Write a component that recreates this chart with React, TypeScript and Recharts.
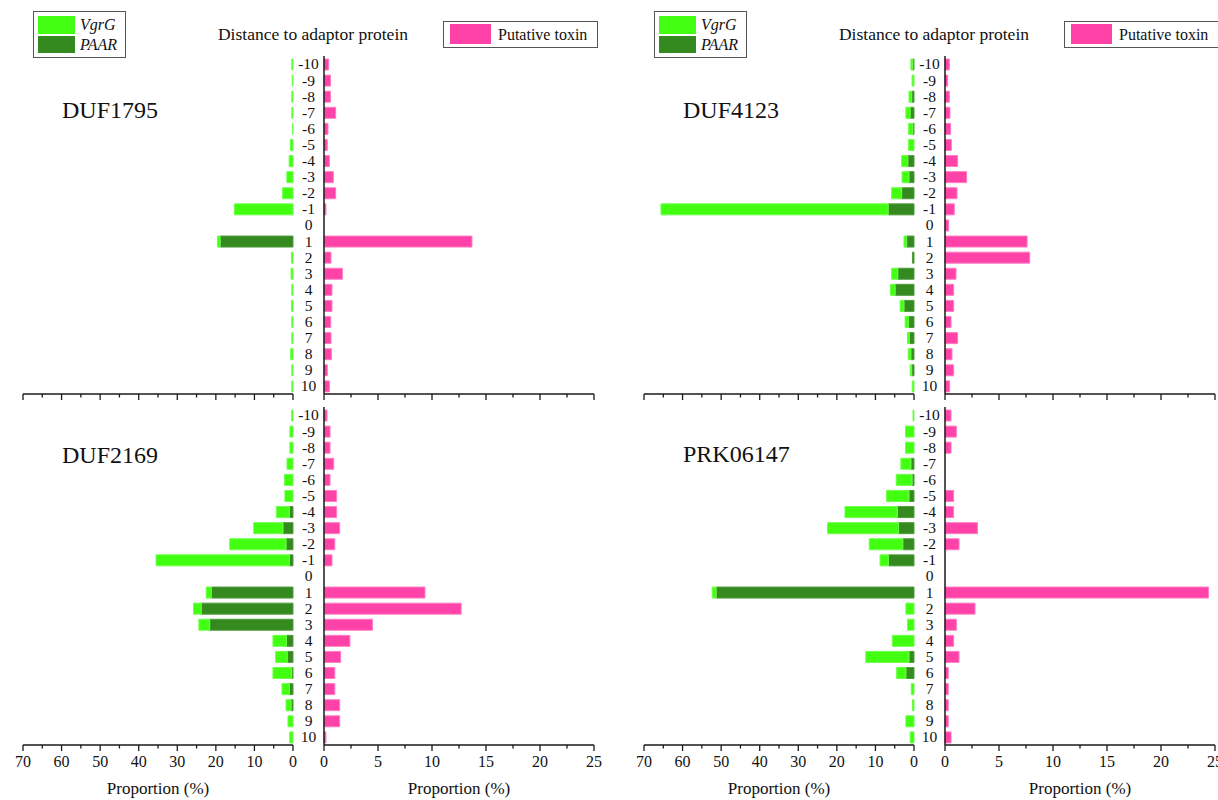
import { BarChart, Bar, XAxis, YAxis } from "recharts";

const positions = [-10, -9, -8, -7, -6, -5, -4, -3, -2, -1, 0, 1, 2, 3, 4, 5, 6, 7, 8, 9, 10];

// VgrG values are the light green part drawn beyond the PAAR part
const duf1795Vgrg = [0.3, 0.2, 0.3, 0.3, 0.1, 0.7, 1.0, 1.6, 2.7, 15.2, 0, 0.7, 0.4, 0.5, 0.3, 0.4, 0.3, 0.3, 0.6, 0.3, 0.3];
const duf1795Paar = [0, 0, 0, 0, 0, 0, 0, 0, 0, 0, 0, 18.9, 0, 0, 0, 0, 0, 0, 0, 0, 0];
const duf1795Toxin = [0.43, 0.6, 0.6, 1.08, 0.37, 0.3, 0.5, 0.86, 1.08, 0.18, 0, 13.7, 0.65, 1.7, 0.74, 0.74, 0.62, 0.65, 0.68, 0.31, 0.5];

const duf4123Vgrg = [0.5, 0.5, 0.7, 1.1, 1.1, 1.4, 1.6, 1.8, 2.6, 58.9, 0, 0.7, 0, 1.6, 1.2, 1.0, 0.9, 0.5, 0.7, 0.4, 0.45];
const duf4123Paar = [0.3, 0, 0.6, 1.0, 0.3, 0, 1.6, 1.3, 3.2, 6.7, 0, 1.9, 0.4, 4.2, 4.9, 2.6, 1.4, 1.2, 0.8, 0.6, 0];
const duf4123Toxin = [0.4, 0.25, 0.4, 0.46, 0.52, 0.59, 1.17, 2.0, 1.11, 0.86, 0.34, 7.6, 7.84, 1.02, 0.8, 0.8, 0.56, 1.17, 0.65, 0.8, 0.43];

const duf2169Vgrg = [0.35, 0.8, 0.8, 1.55, 2.2, 2.1, 3.35, 7.6, 14.6, 34.55, 0, 1.3, 2.0, 2.8, 3.5, 3.0, 4.85, 1.9, 1.3, 1.3, 0.85];
const duf2169Paar = [0, 0, 0, 0, 0, 0, 0.95, 2.6, 1.8, 0.95, 0, 21.2, 23.8, 21.6, 1.7, 1.5, 0.35, 0.95, 0.5, 0, 0];
const duf2169Toxin = [0.28, 0.56, 0.56, 0.9, 0.56, 1.17, 1.17, 1.45, 1.0, 0.74, 0, 9.35, 12.7, 4.48, 2.4, 1.54, 1.0, 1.0, 1.45, 1.45, 0.18];

const prk06147Vgrg = [0.25, 2.2, 2.2, 2.6, 4.1, 5.8, 13.6, 18.4, 8.7, 2.15, 0, 1.0, 2.1, 1.7, 5.6, 11.2, 2.4, 0.7, 0.4, 2.1, 1.0];
const prk06147Paar = [0, 0, 0, 0.8, 0.5, 1.3, 4.3, 4.0, 2.9, 6.65, 0, 51.3, 0, 0, 0, 1.3, 2.1, 0, 0, 0, 0];
const prk06147Toxin = [0.56, 1.05, 0.56, 0, 0, 0.8, 0.8, 3.0, 1.3, 0, 0, 24.4, 2.78, 1.05, 0.8, 1.3, 0.3, 0.3, 0.3, 0.3, 0.56];

const leftTicks = [0, 5, 10, 15, 20, 25, 30, 35, 40, 45, 50, 55, 60, 65, 70];
const rightTicks = [0, 2.5, 5, 7.5, 10, 12.5, 15, 17.5, 20, 22.5, 25];

const LIGHT = "#42ff12";
const DARK = "#348a1f";
const PINK = "#ff42a8";
const AXIS = "#1a1a1a";
const FONT = "'Liberation Serif', 'Times New Roman', serif";

const TOP = 56;
const PLOT_H = 338;

function XTick(props: any) {
  const { x, y, payload, major, showLabel } = props;
  const isMajor = payload.value % major === 0;
  return (
    <g>
      <line x1={x} x2={x} y1={y} y2={y + (isMajor ? 6 : 3.5)} stroke={AXIS} strokeWidth={1.3} />
      {showLabel && isMajor && (
        <text x={x} y={y + 22} textAnchor="middle" fontSize={16} fontFamily={FONT} fill="#111">
          {payload.value}
        </text>
      )}
    </g>
  );
}

function PosTick(props: any) {
  const { x, y, payload } = props;
  return (
    <text x={x - 15.5} y={y} dy="0.35em" textAnchor="middle" fontSize={15.5} fontFamily={FONT} fill="#111">
      {payload.value}
    </text>
  );
}

interface PanelProps {
  x: number;
  y: number;
  name: string;
  nameY: number;
  vgrg: number[];
  paar: number[];
  toxin: number[];
  bottom?: boolean;
  header?: boolean;
}

function Panel({ x, y, name, nameY, vgrg, paar, toxin, bottom = false, header = false }: PanelProps) {
  const data = positions.map((p, i) => ({ pos: String(p), vgrg: vgrg[i], paar: paar[i], toxin: toxin[i] }));
  const xh = bottom ? 55 : 10;
  const h = TOP + PLOT_H + xh;
  return (
    <div style={{ position: "absolute", left: x, top: y, width: 620, height: h }}>
      <div style={{ position: "absolute", left: 0, top: 0 }}>
        <BarChart width={300} height={h} data={data} layout="vertical" margin={{ top: TOP, right: 7, left: 23, bottom: 0 }} barSize={11}>
          <XAxis
            type="number"
            domain={[0, 70]}
            reversed
            ticks={leftTicks}
            interval={0}
            height={xh}
            tickSize={0}
            tickMargin={0}
            tickLine={false}
            axisLine={{ stroke: AXIS, strokeWidth: 1.5 }}
            tick={(p: any) => <XTick {...p} major={10} showLabel={bottom} />}
          />
          <YAxis type="category" dataKey="pos" orientation="right" width={0} tick={false} tickLine={false} axisLine={{ stroke: AXIS, strokeWidth: 1.5 }} />
          <Bar dataKey="paar" stackId="a" fill={DARK} stroke="#4f9c3c" strokeWidth={1} isAnimationActive={false} />
          <Bar dataKey="vgrg" stackId="a" fill={LIGHT} stroke="#6dff4a" strokeWidth={1} isAnimationActive={false} />
        </BarChart>
      </div>
      <div style={{ position: "absolute", left: 293, top: 0 }}>
        <BarChart width={321} height={h} data={data} layout="vertical" margin={{ top: TOP, right: 20, left: 0, bottom: 0 }} barSize={11}>
          <XAxis
            type="number"
            domain={[0, 25]}
            ticks={rightTicks}
            interval={0}
            height={xh}
            tickSize={0}
            tickMargin={0}
            tickLine={false}
            axisLine={{ stroke: AXIS, strokeWidth: 1.5 }}
            tick={(p: any) => <XTick {...p} major={5} showLabel={bottom} />}
          />
          <YAxis
            type="category"
            dataKey="pos"
            orientation="left"
            width={31}
            interval={0}
            tickSize={0}
            tickMargin={0}
            tickLine={false}
            axisLine={{ stroke: AXIS, strokeWidth: 1.5 }}
            tick={(p: any) => <PosTick {...p} />}
          />
          <Bar dataKey="toxin" fill={PINK} stroke="#ff7cc2" strokeWidth={1} isAnimationActive={false} />
        </BarChart>
      </div>
      <svg width={620} height={h} style={{ position: "absolute", left: 0, top: 0, pointerEvents: "none" }} fontFamily={FONT}>
        <text x={62} y={nameY} fontSize={24} fill="#111">{name}</text>
        {header && (
          <g>
            <rect x={33.5} y={11.5} width={92} height={46} fill="#fff" stroke="#555" strokeWidth={1} />
            <rect x={38} y={16} width={37} height={18} fill={LIGHT} />
            <rect x={38} y={36} width={37} height={17} fill={DARK} />
            <text x={80} y={30} fontSize={16} fontStyle="italic" fill="#111">VgrG</text>
            <text x={80} y={50} fontSize={16} fontStyle="italic" fill="#111">PAAR</text>
            <text x={313} y={40} fontSize={17.5} textAnchor="middle" fill="#111">Distance to adaptor protein</text>
            <rect x={443.5} y={21.5} width={154} height={26} fill="#fff" stroke="#555" strokeWidth={1} />
            <rect x={450} y={24} width={41} height={20} fill={PINK} />
            <text x={498} y={40} fontSize={16} fill="#111">Putative toxin</text>
          </g>
        )}
        {bottom && (
          <g>
            <text x={158} y={TOP + PLOT_H + 49} fontSize={17} textAnchor="middle" fill="#111">Proportion (%)</text>
            <text x={459} y={TOP + PLOT_H + 49} fontSize={17} textAnchor="middle" fill="#111">Proportion (%)</text>
          </g>
        )}
      </svg>
    </div>
  );
}

export default function App() {
  return (
    <div style={{ position: "absolute", left: 0, top: 0, width: 1218, height: 800, overflow: "hidden", background: "#fff" }}>
      <Panel x={0} y={0} name="DUF1795" nameY={118} vgrg={duf1795Vgrg} paar={duf1795Paar} toxin={duf1795Toxin} header />
      <Panel x={621} y={0} name="DUF4123" nameY={118} vgrg={duf4123Vgrg} paar={duf4123Paar} toxin={duf4123Toxin} header />
      <Panel x={0} y={351} name="DUF2169" nameY={112} vgrg={duf2169Vgrg} paar={duf2169Paar} toxin={duf2169Toxin} bottom />
      <Panel x={621} y={351} name="PRK06147" nameY={111} vgrg={prk06147Vgrg} paar={prk06147Paar} toxin={prk06147Toxin} bottom />
    </div>
  );
}
